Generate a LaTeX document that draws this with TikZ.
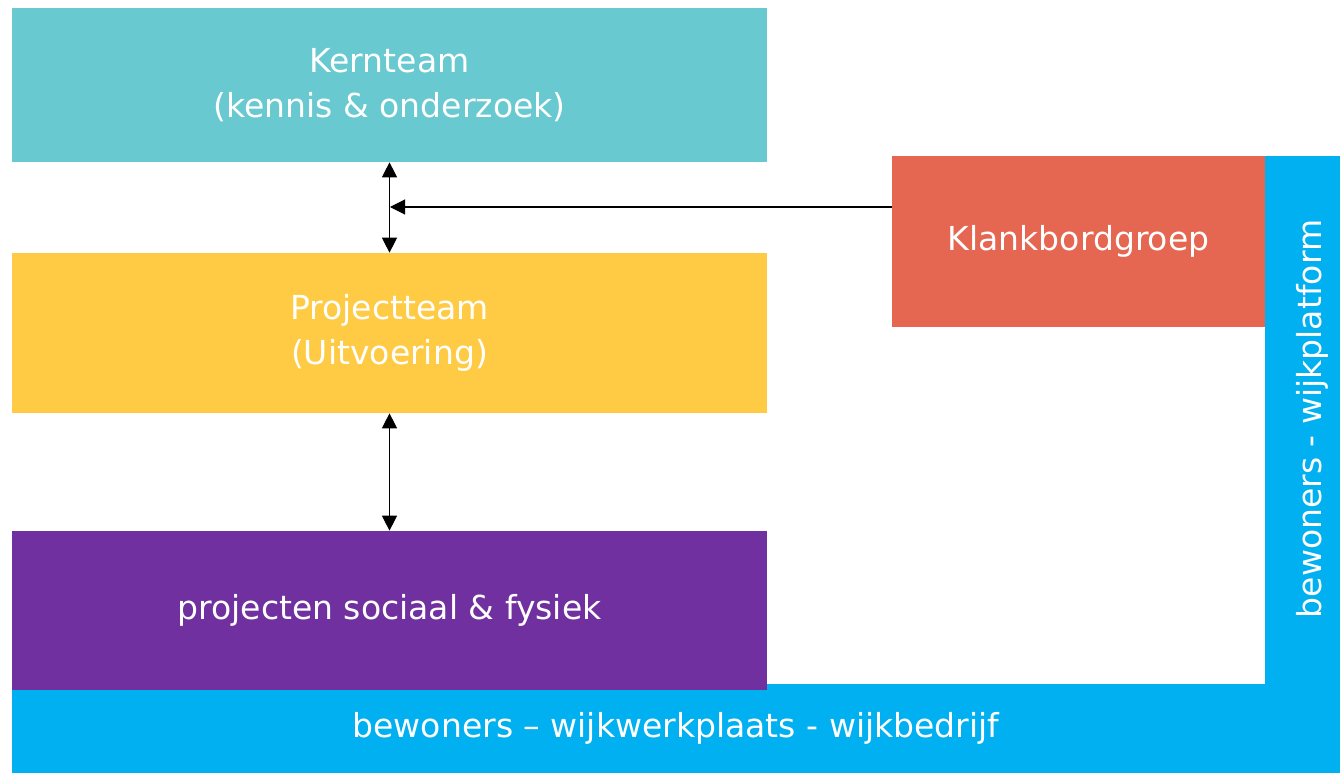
\documentclass[tikz,border=0pt]{standalone}
\usepackage{fontspec}
\setmainfont{DejaVu Sans}
\usetikzlibrary{arrows.meta}
\definecolor{kerncol}{HTML}{68C9D0}
\definecolor{projcol}{HTML}{FFCB44}
\definecolor{paars}{HTML}{7030A0}
\definecolor{klankcol}{HTML}{E56651}
\definecolor{wijkblauw}{HTML}{00B0F0}

\begin{document}
\begin{tikzpicture}[x=0.02cm, y=-0.02cm,
  blok/.style={shape=rectangle, inner sep=0pt, text=white, align=center, font=\fontsize{18.8}{25.6}\selectfont},
  kop/.tip={Triangle[length=0.3cm, width=0.3cm]},
  pijl/.style={line width=0.6pt, -kop}]
\useasboundingbox (0,0) rectangle (1340,773);
\node[blok, fill=wijkblauw, minimum width=1.5cm, minimum height=10.56cm] (platform) at (1302.5, 420) {};
\node[blok, rotate=90] (platformtekst) at (1312, 419) {bewoners - wijkplatform};
\node[blok, fill=wijkblauw, minimum width=26.56cm, minimum height=1.78cm] (werkplaats) at (676, 728.5) {bewoners -- wijkwerkplaats - wijkbedrijf};
\node[blok, fill=kerncol, minimum width=15.1cm, minimum height=3.08cm] (kern) at (389.5, 85) {Kernteam\\(kennis \& onderzoek)};
\node[blok, fill=projcol, minimum width=15.1cm, minimum height=3.2cm] (proj) at (389.5, 333) {Projectteam\\(Uitvoering)};
\node[blok, fill=paars, minimum width=15.1cm, minimum height=3.18cm] (projecten) at (389.5, 610.5) {projecten sociaal \& fysiek};
\node[blok, fill=klankcol, minimum width=7.46cm, minimum height=3.42cm] (klank) at (1078.5, 241.5) {Klankbordgroep};
\coordinate (kruis) at (390, 207);
\draw[pijl, kop-kop] (kern) -- (proj);
\draw[pijl, kop-kop] (proj) -- (projecten);
\draw[pijl] (klank.west |- kruis) -- (kruis);
\end{tikzpicture}
\end{document}
